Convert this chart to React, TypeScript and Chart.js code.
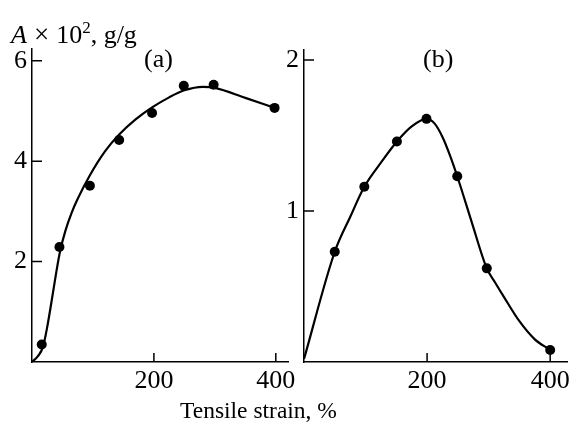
import React, { useEffect, useRef } from 'react';
import { Chart, registerables } from 'chart.js';
Chart.register(...registerables);

// Panel (a)
const strainA = [16, 45, 95, 143, 197, 249, 298, 398];
const sorptionA = [0.35, 2.29, 3.51, 4.42, 4.96, 5.5, 5.52, 5.06];
const curveStrainA = [0, 10, 18, 25, 32, 40, 46, 55, 65, 75, 95, 120, 143, 170, 197, 225, 250, 280, 300, 350, 398];
const curveA = [0, 0.12, 0.3, 0.7, 1.2, 1.8, 2.2, 2.62, 2.97, 3.25, 3.72, 4.2, 4.53, 4.83, 5.07, 5.27, 5.41, 5.48, 5.46, 5.26, 5.06];

// Panel (b)
const strainB = [50, 98, 151, 199, 249, 297, 400];
const sorptionB = [0.73, 1.16, 1.46, 1.61, 1.23, 0.62, 0.08];
const curveStrainB = [0, 50, 75, 98, 125, 151, 175, 199, 212, 225, 237, 249, 273, 297, 310, 325, 350, 375, 400];
const curveB = [0.02, 0.73, 0.96, 1.16, 1.32, 1.46, 1.56, 1.61, 1.58, 1.49, 1.37, 1.23, 0.92, 0.62, 0.53, 0.43, 0.27, 0.15, 0.08];

const xTicks = [200, 400];
const yTicksA = [2, 4, 6];
const yTicksB = [1, 2];

const FONT = 'Liberation Serif, "Times New Roman", serif';

const inwardTicks = {
  id: 'inwardTicks',
  afterDatasetsDraw(chart: any) {
    const { ctx, chartArea, scales } = chart;
    ctx.save();
    ctx.strokeStyle = '#000';
    ctx.lineWidth = 1.5;
    ctx.beginPath();
    for (const t of scales.x.ticks) {
      const px = scales.x.getPixelForValue(t.value);
      ctx.moveTo(px, chartArea.bottom);
      ctx.lineTo(px, chartArea.bottom - 9);
    }
    for (const t of scales.y.ticks) {
      const py = scales.y.getPixelForValue(t.value);
      ctx.moveTo(chartArea.left, py);
      ctx.lineTo(chartArea.left + 10, py);
    }
    ctx.stroke();
    ctx.restore();
  },
};

function makeChart(
  canvas: HTMLCanvasElement,
  px: number[], py: number[], cx: number[], cy: number[],
  xMax: number, yMax: number, yTicks: number[], yW: number,
  pad: { top: number; right: number }
) {
  return new Chart(canvas, {
    type: 'scatter',
    data: {
      datasets: [
        {
          data: cx.map((x, i) => ({ x, y: cy[i] })),
          showLine: true,
          borderColor: '#000',
          borderWidth: 2.2,
          pointRadius: 0,
          cubicInterpolationMode: 'monotone',
          fill: false,
        },
        {
          data: px.map((x, i) => ({ x, y: py[i] })),
          showLine: false,
          pointRadius: 5,
          pointBackgroundColor: '#000',
          pointBorderColor: '#000',
          pointBorderWidth: 0,
        },
      ],
    },
    options: {
      responsive: false,
      animation: false,
      layout: { padding: { left: 0, top: pad.top, right: pad.right, bottom: 0 } },
      plugins: { legend: { display: false }, tooltip: { enabled: false } },
      scales: {
        x: {
          type: 'linear',
          min: 0,
          max: xMax,
          afterBuildTicks: (s: any) => { s.ticks = xTicks.map((v) => ({ value: v })); },
          afterFit: (s: any) => { s.height = 68; },
          grid: { display: false, drawTicks: false, tickLength: 0 },
          border: { display: true, color: '#000', width: 1.5 },
          ticks: { color: '#000', font: { family: FONT, size: 26 }, padding: 4, maxRotation: 0, autoSkip: false },
        },
        y: {
          type: 'linear',
          min: 0,
          max: yMax,
          afterBuildTicks: (s: any) => { s.ticks = yTicks.map((v) => ({ value: v })); },
          afterFit: (s: any) => { s.width = yW; },
          grid: { display: false, drawTicks: false, tickLength: 0 },
          border: { display: true, color: '#000', width: 1.5 },
          ticks: { color: '#000', font: { family: FONT, size: 26 }, padding: 5 },
        },
      },
    } as any,
    plugins: [inwardTicks],
  });
}

export default function App() {
  const refA = useRef<HTMLCanvasElement>(null);
  const refB = useRef<HTMLCanvasElement>(null);
  useEffect(() => {
    const a = makeChart(refA.current!, strainA, sorptionA, curveStrainA, curveA, 420, 6.233, yTicksA, 32, { top: 49, right: 12 });
    const b = makeChart(refB.current!, strainB, sorptionB, curveStrainB, curveB, 428, 2.066, yTicksB, 24, { top: 50, right: 3 });
    return () => { a.destroy(); b.destroy(); };
  }, []);
  const txt: React.CSSProperties = {
    position: 'absolute', fontFamily: FONT, fontSize: 26, color: '#000', whiteSpace: 'nowrap', lineHeight: '28px',
  };
  return (
    <div style={{ position: 'absolute', left: 0, top: 0, width: 574, height: 430, background: '#fff', overflow: 'hidden' }}>
      <canvas ref={refA} width={300} height={430} style={{ position: 'absolute', left: 0, top: 0 }} />
      <canvas ref={refB} width={294} height={430} style={{ position: 'absolute', left: 280, top: 0 }} />
      <div style={{ ...txt, left: 11, top: 14 }}>
        <span style={{ fontStyle: 'italic' }}>A</span>
        <span style={{ margin: '0 7px', fontSize: 27 }}>×</span>10<span style={{ fontSize: 17, verticalAlign: 10 }}>2</span>, g/g
      </div>
      <div style={{ ...txt, left: 144, top: 45 }}>(a)</div>
      <div style={{ ...txt, left: 423, top: 45 }}>(b)</div>
      <div style={{ ...txt, fontSize: 23.5, left: 180, top: 396 }}>Tensile strain, %</div>
    </div>
  );
}
